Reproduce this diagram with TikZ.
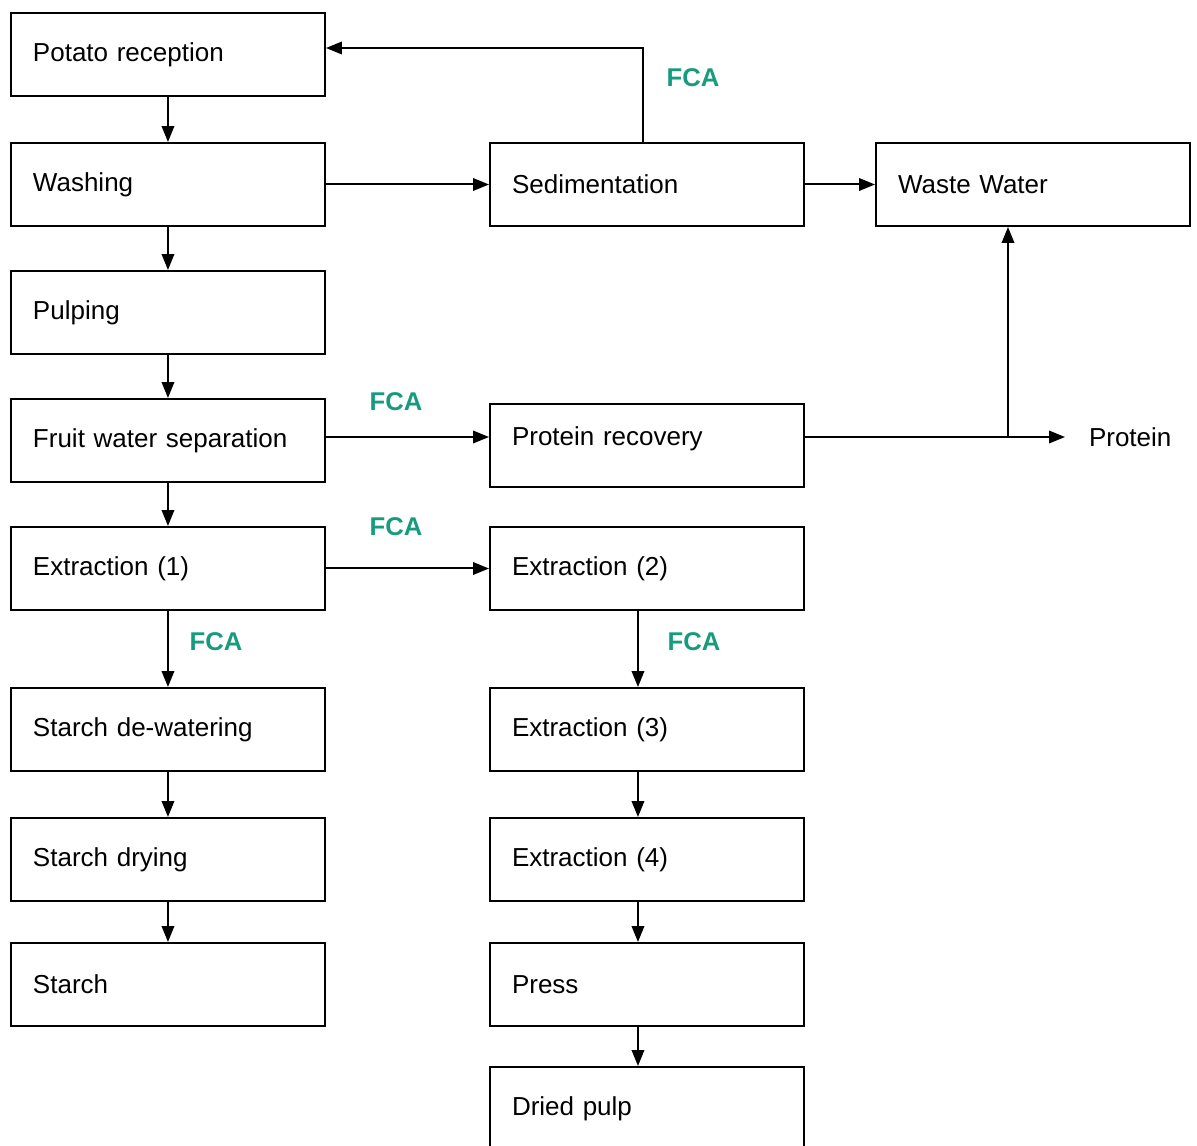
\documentclass[tikz,border=0pt]{standalone}
\usepackage{fontspec}
\setmainfont{Liberation Sans}
\usepackage{tikz}
\usetikzlibrary{arrows.meta}
\usepackage{xcolor}
\definecolor{fcagreen}{RGB}{22,155,125}

\begin{document}
\begin{tikzpicture}[x=0.02cm,y=-0.02cm,>={Triangle[length=0.32cm,width=0.25cm]},line width=0.04cm,
  font=\fontsize{14.8}{17}\selectfont,
  stage/.style={draw,line width=0.04cm,anchor=north west,minimum height=1.66cm,text width=5.4cm,inner xsep=0.44cm,inner ysep=0pt,align=left},
  fca/.style={text=fcagreen,font=\fontsize{14.6}{17}\selectfont\bfseries}]
\useasboundingbox (0,0) rectangle (1197,1146);
% left column
\node[stage] (pot) at (10,12) {Potato reception};
\node[stage] (wash) at (10,142) {Washing};
\node[stage] (pulp) at (10,270) {Pulping};
\node[stage] (fws) at (10,398) {Fruit water separation};
\node[stage] (ext1) at (10,526) {Extraction (1)};
\node[stage] (sdw) at (10,687) {Starch de-watering};
\node[stage] (sdry) at (10,817) {Starch drying};
\node[stage] (starch) at (10,942) {Starch};
% middle column
\node[stage] (sed) at (489,142) {Sedimentation};
\node[stage,text height=0.38cm,text depth=0.37cm] (prot) at (489,403) {Protein recovery};
\node[stage] (ext2) at (489,526) {Extraction (2)};
\node[stage] (ext3) at (489,687) {Extraction (3)};
\node[stage] (ext4) at (489,817) {Extraction (4)};
\node[stage] (press) at (489,942) {Press};
\node[stage] (pulpdry) at (489,1066) {Dried pulp};
% right
\node[stage] (ww) at (875,142) {Waste Water};
\node[anchor=west,inner sep=0pt] (protein) at (1088,437) {Protein};
% labels
\node[fca] (fca1) at (693,78) {FCA};
\node[fca] (fca2) at (396,402) {FCA};
\node[fca] (fca3) at (396,527) {FCA};
\node[fca] (fca4) at (216,642) {FCA};
\node[fca] (fca5) at (694,642) {FCA};
% arrows
\coordinate (split) at (1008,437);
\draw[->] (pot) -- (wash);
\draw[->] (wash) -- (pulp);
\draw[->] (pulp) -- (fws);
\draw[->] (fws) -- (ext1);
\draw[->] (ext1) -- (sdw);
\draw[->] (sdw) -- (sdry);
\draw[->] (sdry) -- (starch);
\draw[->] (wash.east) -- (sed.west);
\draw[->] (sed.east) -- (ww.west);
\draw[->] ([xshift=-0.08cm]sed.north) |- ([yshift=0.13cm]pot.east);
\draw[->] (fws.east |- split) -- (split -| prot.west);
\draw[->] (prot.east |- split) -- ([xshift=-0.46cm]protein.west);
\draw[->] (split) -- (split |- ww.south);
\draw[->] (ext1.east) -- (ext2.west);
\draw[->] ([xshift=-0.18cm]ext2.south) -- ([xshift=-0.18cm]ext3.north);
\draw[->] ([xshift=-0.18cm]ext3.south) -- ([xshift=-0.18cm]ext4.north);
\draw[->] ([xshift=-0.18cm]ext4.south) -- ([xshift=-0.18cm]press.north);
\draw[->] ([xshift=-0.18cm]press.south) -- ([xshift=-0.18cm]pulpdry.north);
\end{tikzpicture}
\end{document}
